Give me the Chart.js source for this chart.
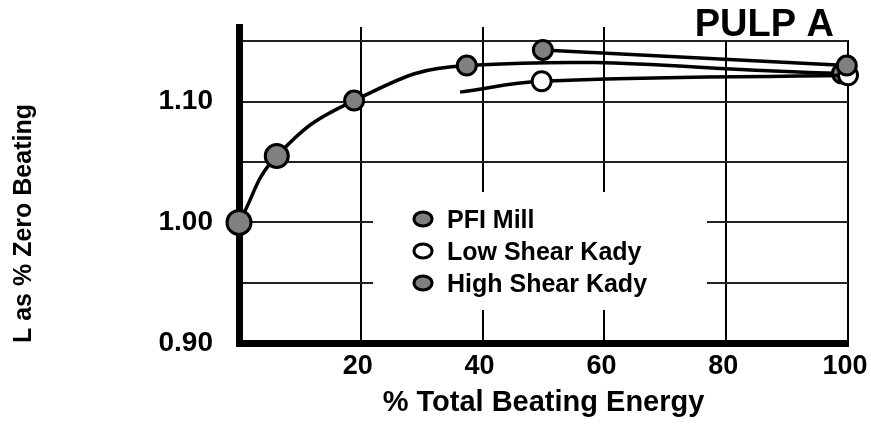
<!DOCTYPE html>
<html>
<head>
<meta charset="utf-8">
<script src="https://cdn.jsdelivr.net/npm/chart.js@4/dist/chart.umd.min.js"></script>
<style>
html,body{margin:0;padding:0;background:#fff;}
#wrap{width:871px;height:425px;}
</style>
</head>
<body>
<div id="wrap"><canvas id="c" width="871" height="425"></canvas></div>
<script>
// ---- data ----
const seriesNames = ['PFI Mill', 'Low Shear Kady', 'High Shear Kady'];
const pfiX  = [0, 6.2, 18.9, 37.4, 99.0];
const pfiY  = [1.000, 1.055, 1.101, 1.130, 1.1235];
const lowX  = [36.3, 49.7, 100];
const lowY  = [1.108, 1.117, 1.122];
const highX = [49.9, 99.8];
const highY = [1.143, 1.130];
const xTickValues = [20, 40, 60, 80, 100];
const yLabeledTicks = [0.90, 1.00, 1.10];
const chartTitle = 'PULP A';
const xTitle = '% Total Beating Energy';
const yTitle = 'L as % Zero Beating';

const FONT = "'Liberation Sans', Arial, Helvetica, sans-serif";
const toPts = (xs, ys) => xs.map((x, i) => ({x: x, y: ys[i]}));

const overlayPlugin = {
  id: 'overlay',
  beforeDatasetsDraw(chart) {
    const ctx = chart.ctx;
    ctx.save();
    // white boxes behind title and legend
    ctx.fillStyle = '#fff';
    ctx.fillRect(373, 192, 334, 118);
    ctx.fillRect(660, 0, 211, 40);
    // title
    ctx.fillStyle = '#000';
    ctx.font = "bold 38px " + FONT;
    ctx.textAlign = 'right';
    ctx.textBaseline = 'alphabetic';
    ctx.fillText(chartTitle, 834, 36);
    // legend
    const rows = [219, 251, 283];
    ctx.font = "bold 25px " + FONT;
    ctx.textAlign = 'left';
    chart.data.datasets.forEach((ds, i) => {
      ctx.beginPath();
      ctx.ellipse(423, rows[i], 9, 7, 0, 0, Math.PI * 2);
      ctx.fillStyle = ds.pointBackgroundColor;
      ctx.fill();
      ctx.lineWidth = 3;
      ctx.strokeStyle = '#000';
      ctx.stroke();
      ctx.fillStyle = '#000';
      ctx.fillText(ds.label, 447, rows[i] + 8.5);
    });
    ctx.restore();
  }
};

const zeroPad = (s) => { s.paddingLeft = 0; s.paddingRight = 0; s.paddingTop = 0; s.paddingBottom = 0; };

new Chart(document.getElementById('c'), {
  type: 'line',
  data: {
    datasets: [
      {
        label: seriesNames[0],
        data: toPts(pfiX, pfiY),
        borderColor: '#000', borderWidth: 3.5,
        pointBackgroundColor: '#808080', pointBorderColor: '#000', pointBorderWidth: 3,
        pointRadius: [12, 11.5, 9.5, 9.5, 9.5],
        tension: 0.45, clip: false, order: 2, fill: false
      },
      {
        label: seriesNames[1],
        data: toPts(lowX, lowY),
        borderColor: '#000', borderWidth: 3.5,
        pointBackgroundColor: '#ffffff', pointBorderColor: '#000', pointBorderWidth: 3,
        pointRadius: [0, 9.5, 9.5],
        tension: 0.4, clip: false, order: 1, fill: false
      },
      {
        label: seriesNames[2],
        data: toPts(highX, highY),
        borderColor: '#000', borderWidth: 3.5,
        pointBackgroundColor: '#808080', pointBorderColor: '#000', pointBorderWidth: 3,
        pointRadius: [9.5, 9.5],
        tension: 0, clip: false, order: 0, fill: false
      }
    ]
  },
  options: {
    responsive: false,
    devicePixelRatio: 1,
    animation: false,
    events: [],
    layout: { padding: { top: 27, right: 23, left: 0, bottom: 0 } },
    plugins: { legend: { display: false }, tooltip: { enabled: false }, title: { display: false } },
    scales: {
      x: {
        type: 'linear', min: 0, max: 100,
        afterFit: (s) => { s.height = 82; zeroPad(s); },
        afterBuildTicks: (s) => { s.ticks = [0].concat(xTickValues).map(v => ({value: v})); },
        grid: { color: '#000', lineWidth: 2, drawTicks: false },
        border: { display: true, color: '#000', width: 7 },
        ticks: {
          padding: 7, maxRotation: 0, autoSkip: false, labelOffset: -3,
          color: '#000', font: { family: FONT, size: 27, weight: 'bold' },
          callback: (v) => xTickValues.includes(v) ? String(v) : ''
        },
        title: {
          display: true, text: xTitle, color: '#000',
          font: { family: FONT, size: 29, weight: 'bold' },
          padding: { top: 0, bottom: 4.5 }
        }
      },
      y: {
        type: 'linear', min: 0.9, max: 1.162,
        afterFit: (s) => { s.width = 239; zeroPad(s); },
        ticks: {
          stepSize: 0.05, includeBounds: false, padding: 26, autoSkip: false,
          color: '#000', font: { family: FONT, size: 28, weight: 'bold' },
          callback: (v) => yLabeledTicks.some(t => Math.abs(t - v) < 1e-6) ? v.toFixed(2) : ''
        },
        grid: { color: '#222', lineWidth: 2, drawTicks: false },
        border: { display: true, color: '#000', width: 7 },
        title: {
          display: true, text: yTitle, align: 'start', color: '#000',
          font: { family: FONT, size: 25, weight: 'bold' },
          padding: { top: 9, bottom: 0 }
        }
      }
    }
  },
  plugins: [overlayPlugin]
});
</script>
</body>
</html>
